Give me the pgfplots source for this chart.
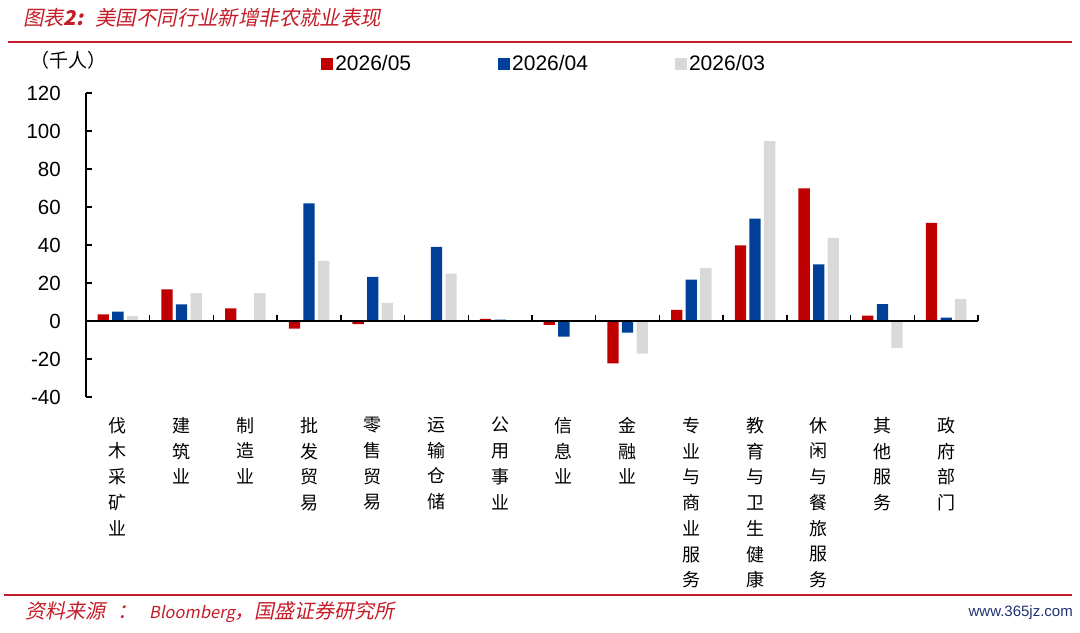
\documentclass[border=0pt]{standalone}
\usepackage{fontspec}
\usepackage{pgfplots}
\pgfplotsset{compat=1.18}
\setmainfont{Liberation Sans}
\newfontfamily\cjk{Noto Sans CJK SC}
\newfontfamily\cjkit[FakeSlant=0.2]{Noto Sans CJK SC}
\definecolor{bred}{RGB}{192,0,0}
\definecolor{bblue}{RGB}{0,64,152}
\definecolor{bgrey}{RGB}{217,217,217}
\definecolor{hred}{RGB}{196,28,40}
\definecolor{wmblue}{RGB}{30,50,110}
\begin{document}
\begin{tikzpicture}[x=1bp,y=1bp]
\useasboundingbox (0,0) rectangle (1080,633);
\node[anchor=west, text=hred, font=\fontsize{20.4bp}{24bp}\selectfont, inner sep=0pt] at (23,615) {\cjkit 图表{\itshape\bfseries 2:}\hspace{12bp}美国不同行业新增非农就业表现};
\draw[hred, line width=1.5bp] (8,591) -- (1072,591);
\draw[hred, line width=2bp] (4,38) -- (1072,38);
\node[anchor=west, text=hred, font=\fontsize{20bp}{24bp}\selectfont, inner sep=0pt] at (25,21) {\cjkit 资料来源\hspace{12bp}：\hspace{12bp}{\fontsize{16.5bp}{20bp}\selectfont\itshape Bloomberg}，国盛证券研究所};
\node[anchor=east, text=wmblue, font=\fontsize{15bp}{18bp}\selectfont, inner sep=0pt] at (1073,20) {www.365jz.com};
\node[font=\cjk\fontsize{19bp}{22bp}\selectfont, inner sep=0pt] at (68,573) {（千人）};
\begin{axis}[
  at={(86bp,236bp)}, anchor=south west, scale only axis,
  width=892bp, height=304bp,
  xmin=-0.5, xmax=13.5, ymin=-40, ymax=120,
  ytick={-40,-20,...,120},
  axis lines*=left,
  x axis line style={draw=none},
  y axis line style={line width=1.5bp, black},
  ytick style={line width=1.5bp, black},
  major tick length=6bp, tick align=inside,
  xtick={0,...,13}, xtick style={draw=none},
  xticklabels={{伐\\木\\采\\矿\\业},{建\\筑\\业},{制\\造\\业},{批\\发\\贸\\易},{零\\售\\贸\\易},{运\\输\\仓\\储},{公\\用\\事\\业},{信\\息\\业},{金\\融\\业},{专\\业\\与\\商\\业\\服\\务},{教\\育\\与\\卫\\生\\健\\康},{休\\闲\\与\\餐\\旅\\服\\务},{其\\他\\服\\务},{政\\府\\部\\门}},
  xticklabel style={align=center, anchor=north, inner sep=0pt, yshift=-14bp, font=\cjk\fontsize{18bp}{25.75bp}\selectfont},
  yticklabel style={anchor=east, inner sep=0pt, xshift=-25bp, font=\fontsize{20.5bp}{24bp}\selectfont},
  /pgf/number format/assume math mode=true,
  ybar=3.3bp, bar width=11.3bp,
  clip=false,
  legend columns=3,
  legend image code/.code={\fill[#1] (0bp,-6bp) rectangle (12bp,6bp);},
  legend style={at={(0.2635,1.0954)}, anchor=west, draw=none, fill=none, inner sep=0pt,
    font=\fontsize{21bp}{24bp}\selectfont,
    nodes={inner sep=2bp},
    /tikz/every even column/.append style={column sep=85bp}},
]
\addplot[fill=bred, draw=none] coordinates {(0,3.5) (1,16.7) (2,6.7) (3,-4) (4,-1.6) (5,0.3) (6,1.1) (7,-2.1) (8,-22.3) (9,5.8) (10,39.8) (11,69.8) (12,2.8) (13,51.7)};
\addplot[fill=bblue, draw=none] coordinates {(0,4.9) (1,8.7) (2,0) (3,61.9) (4,23.2) (5,39) (6,0.7) (7,-8.2) (8,-6.1) (9,21.8) (10,53.9) (11,29.8) (12,8.9) (13,1.8)};
\addplot[fill=bgrey, draw=none] coordinates {(0,2.6) (1,14.7) (2,14.7) (3,31.6) (4,9.5) (5,24.9) (6,0) (7,0.5) (8,-17.2) (9,27.9) (10,94.7) (11,43.7) (12,-14.2) (13,11.7)};
\legend{2026/05,2026/04,2026/03}
\draw[black, line width=1.5bp] (axis cs:-0.5,0) -- (axis cs:13.5,0);
\pgfplotsinvokeforeach{0.5,1.5,2.5,3.5,4.5,5.5,6.5,7.5,8.5,9.5,10.5,11.5,12.5,13.5}{\draw[black,line width=1.5bp] (axis cs:#1,0) -- ++(0pt,6bp);}
\end{axis}
\end{tikzpicture}
\end{document}
